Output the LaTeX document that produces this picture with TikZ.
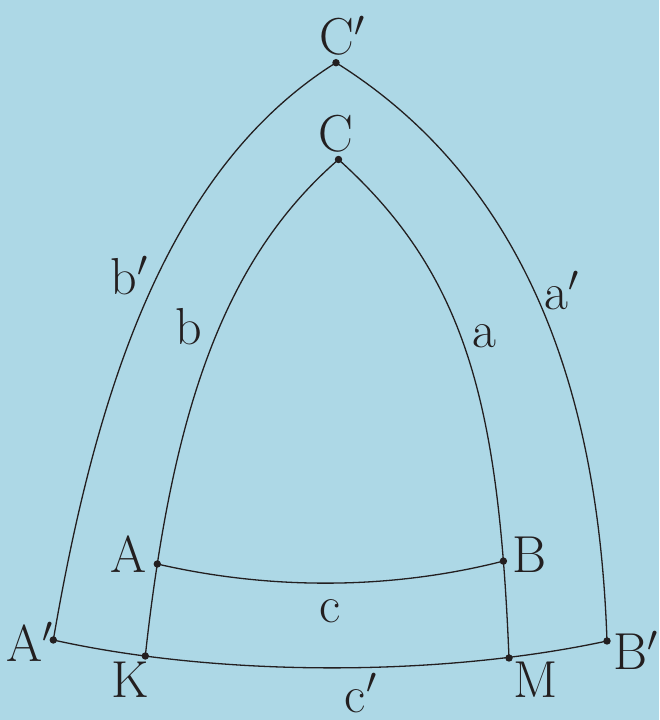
\RequirePackage{fix-cm}
\documentclass[tikz,border=0pt]{standalone}
\usepackage{tikz}
\usepackage{tkz-euclide}
\definecolor{skybg}{RGB}{173,216,230}
\definecolor{ink}{RGB}{35,31,32}
\tikzset{lbl/.style={inner sep=0pt, anchor=base, text=ink, font=\fontsize{52}{60}\selectfont}}

\begin{document}
\begin{tikzpicture}[x=1pt, y=1pt, line width=1.3pt]
        \useasboundingbox (0,0) rectangle (659,720);
        \fill[skybg] (0,0) rectangle (659,720);
        % the two triangles
        \tkzDefPoint(336,657.3){Cp}
        \tkzDefPoint(338.5,560.5){C}
        \tkzDefPoint(157.3,156){A}
        \tkzDefPoint(503.4,158.9){B}
        \tkzDefPoint(53.3,80){Ap}
        \tkzDefPoint(145.3,64){K}
        \tkzDefPoint(509,62){M}
        \tkzDefPoint(607,79){Bp}
        \draw[ink] (Cp) .. controls (166,551) and (95.5,326) .. (Ap);
        \draw[ink] (Cp) .. controls (556.5,519.2) and (600.4,268.8) .. (Bp);
        \draw[ink] (C) .. controls (240,474.9) and (187.1,350.5) .. (A)
                       .. controls (152.8,126.9) and (148.8,96.3) .. (K);
        \draw[ink] (C) .. controls (450.6,459.6) and (488.4,347.8) .. (B)
                       .. controls (505.8,128.7) and (507.6,96.5) .. (M);
        \draw[ink] (A) .. controls (270,130) and (390,130) .. (B);
        \draw[ink] (Ap) .. controls (220,43) and (440,43) .. (Bp);
        \tkzDrawPoints[color=ink, fill=ink, size=6](Cp,C,A,B,Ap,K,M,Bp)
        % labels
        \node[lbl] (lCp) at (342.5,665) {C$'$};
        \node[lbl] (lC) at (336,568) {C};
        \node[lbl] (lA) at (128.5,147) {A};
        \node[lbl] (lB) at (529,147) {B};
        \node[lbl] (lAp) at (29.5,58.3) {A$'$};
        \node[lbl, anchor=base east] (lBp) at (658.5,50) {B$'$};
        \node[lbl] (lK) at (130,22) {K};
        \node[lbl] (lM) at (535.5,22) {M};
        \node[lbl] (lbp) at (129.2,425) {b$'$};
        \node[lbl] (lb) at (188.3,375) {b};
        \node[lbl] (la) at (484.2,372.5) {a};
        \node[lbl] (lap) at (561.7,410) {a$'$};
        \node[lbl] (lc) at (330,97.5) {c};
        \node[lbl] (lcp) at (360.8,8) {c$'$};
\end{tikzpicture}
\end{document}
